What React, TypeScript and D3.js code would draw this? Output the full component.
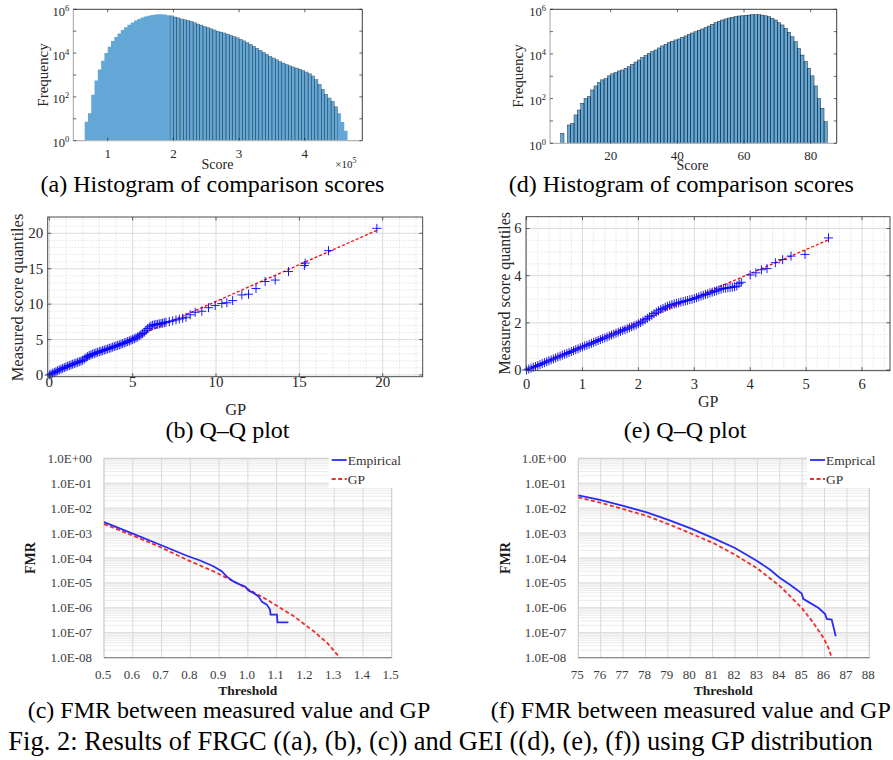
import React from 'react';
import * as d3 from 'd3';

const SERIF = "'Liberation Serif','Times New Roman',Times,serif";

// ---------- (a) FRGC histogram ----------
const histAScoreStart = 65000;
const histABinWidth = 5000;
const histAFreqLog10 = [
  0.87, 1.25, 2.1, 2.75, 3.25, 3.65, 4.0, 4.29, 4.55, 4.73,
  4.9, 5.05, 5.18, 5.3, 5.4, 5.49, 5.56, 5.62, 5.67, 5.71,
  5.74, 5.76, 5.77, 5.77, 5.76, 5.73, 5.7, 5.65, 5.61, 5.56,
  5.52, 5.49, 5.45, 5.39, 5.33, 5.28, 5.22, 5.17, 5.11, 5.06,
  5.0, 4.96, 4.92, 4.87, 4.82, 4.76, 4.7, 4.63, 4.56, 4.48,
  4.4, 4.31, 4.22, 4.13, 4.04, 3.95, 3.86, 3.78, 3.7, 3.62,
  3.55, 3.48, 3.42, 3.37, 3.32, 3.27, 3.21, 3.14, 3.06, 2.96,
  2.8, 2.58, 2.35, 2.12, 1.95, 1.8, 1.55, 1.25, 0.85, 0.45,
];
const histAXTicks = [100000, 200000, 300000, 400000];
const histAXTickLabels = ['1', '2', '3', '4'];

// ---------- (d) GEI histogram ----------
const histDScoreStart = 5;
const histDBinWidth = 1;
const histDFreqLog10: (number | null)[] = [
  0.45, null, 0.82, 0.89, 1.27, 1.49, 1.79, 2.01, 2.09, 2.39,
  2.57, 2.72, 2.84, 2.9, 3.02, 3.11, 3.17, 3.24, 3.28, 3.36,
  3.43, 3.54, 3.64, 3.73, 3.84, 3.93, 4.03, 4.11, 4.18, 4.27,
  4.36, 4.43, 4.51, 4.57, 4.63, 4.67, 4.75, 4.81, 4.88, 4.94,
  5.0, 5.06, 5.12, 5.19, 5.25, 5.33, 5.4, 5.46, 5.52, 5.57,
  5.61, 5.64, 5.67, 5.7, 5.71, 5.73, 5.74, 5.76, 5.76, 5.76,
  5.74, 5.71, 5.67, 5.6, 5.52, 5.4, 5.3, 5.15, 4.97, 4.77,
  4.55, 4.25, 3.95, 3.66, 3.36, 3.02, 2.57, 2.01, 1.57, 0.97,
];
const histDXTicks = [20, 40, 60, 80];
const histDXTickLabels = ['20', '40', '60', '80'];

const histYTickExps = [0, 2, 4, 6];

// ---------- (b) FRGC Q-Q ----------
const qqBGP = [
  0, 0.1, 0.2, 0.3, 0.4, 0.5, 0.6, 0.7, 0.8, 0.9, 1.0, 1.1, 1.2, 1.3, 1.4, 1.5, 1.6, 1.7, 1.8, 1.9,
  2.0, 2.1, 2.2, 2.3, 2.4, 2.5, 2.6, 2.7, 2.8, 2.9, 3.0, 3.1, 3.2, 3.3, 3.4, 3.5, 3.6, 3.7, 3.8, 3.9,
  4.0, 4.1, 4.2, 4.3, 4.4, 4.5, 4.6, 4.7, 4.8, 4.9, 5.0, 5.1, 5.2, 5.3, 5.4, 5.5, 5.6, 5.7, 5.8, 5.9,
  6.0, 6.1, 6.2, 6.3, 6.4, 6.5, 6.6, 6.7, 6.8, 6.9, 7.0, 7.2, 7.4, 7.6, 7.8, 8.0, 8.2, 8.45, 8.75, 9.15,
  9.55, 9.95, 10.35, 10.65, 11.0, 11.55, 11.95, 12.4, 12.95, 13.55, 14.35, 15.3, 15.35, 16.75, 19.65,
];
const qqBMeasured = [
  0, 0.12, 0.25, 0.36, 0.48, 0.6, 0.72, 0.83, 0.93, 1.04, 1.14, 1.24, 1.33, 1.42, 1.52, 1.61, 1.7, 1.79, 1.88, 1.97,
  2.08, 2.25, 2.45, 2.62, 2.75, 2.86, 2.95, 3.04, 3.12, 3.2, 3.28, 3.36, 3.44, 3.52, 3.6, 3.68, 3.76, 3.84, 3.93, 4.02,
  4.1, 4.18, 4.26, 4.35, 4.44, 4.53, 4.62, 4.72, 4.82, 4.92, 5.02, 5.12, 5.24, 5.37, 5.52, 5.68, 5.85, 6.05, 6.3, 6.55,
  6.78, 6.92, 7.02, 7.08, 7.13, 7.17, 7.22, 7.27, 7.32, 7.38, 7.45, 7.55, 7.65, 7.78, 7.9, 8.02, 8.15, 8.5, 8.85, 9.0,
  9.5, 9.8, 10.1, 10.2, 10.5, 11.3, 11.4, 12.2, 13.2, 13.4, 14.6, 15.45, 15.8, 17.55, 20.7,
];
const qqBRefGP = [0, 19.64];
const qqBRefMeasured = [0, 20.4];

// ---------- (e) GEI Q-Q ----------
const qqEGP = [
  0, 0.04, 0.08, 0.12, 0.16, 0.2, 0.24, 0.28, 0.32, 0.36, 0.4, 0.44, 0.48, 0.52, 0.56, 0.6, 0.64, 0.68, 0.72, 0.76,
  0.8, 0.84, 0.88, 0.92, 0.96, 1.0, 1.04, 1.08, 1.12, 1.16, 1.2, 1.24, 1.28, 1.32, 1.36, 1.4, 1.44, 1.48, 1.52, 1.56,
  1.6, 1.64, 1.68, 1.72, 1.76, 1.8, 1.84, 1.88, 1.92, 1.96, 2.0, 2.04, 2.08, 2.12, 2.16, 2.2, 2.24, 2.28, 2.32, 2.36,
  2.4, 2.44, 2.48, 2.52, 2.56, 2.6, 2.64, 2.68, 2.72, 2.76, 2.8, 2.84, 2.88, 2.92, 2.96, 3.0, 3.04, 3.08, 3.12, 3.16,
  3.2, 3.24, 3.28, 3.32, 3.36, 3.4, 3.44, 3.48, 3.52, 3.56, 3.6, 3.64, 3.68, 3.72, 3.76, 3.8, 3.84,
  4.0, 4.1, 4.2, 4.3, 4.45, 4.58, 4.73, 4.98, 5.4,
];
const qqEMeasured = [
  0, 0.04, 0.08, 0.12, 0.15, 0.19, 0.23, 0.27, 0.31, 0.35, 0.39, 0.43, 0.47, 0.51, 0.55, 0.59, 0.63, 0.67, 0.7, 0.74,
  0.78, 0.82, 0.86, 0.9, 0.94, 0.98, 1.02, 1.05, 1.09, 1.13, 1.17, 1.21, 1.25, 1.29, 1.33, 1.36, 1.4, 1.44, 1.48, 1.52,
  1.56, 1.6, 1.64, 1.68, 1.71, 1.75, 1.79, 1.83, 1.87, 1.91, 1.96, 2.01, 2.07, 2.13, 2.19, 2.26, 2.32, 2.39, 2.45, 2.51,
  2.57, 2.61, 2.66, 2.7, 2.74, 2.77, 2.8, 2.83, 2.85, 2.88, 2.9, 2.93, 2.95, 2.98, 3.0, 3.03, 3.07, 3.1, 3.14, 3.17,
  3.2, 3.23, 3.27, 3.3, 3.33, 3.36, 3.4, 3.43, 3.46, 3.47, 3.48, 3.5, 3.51, 3.53, 3.56, 3.66, 3.72,
  4.03, 4.12, 4.25, 4.3, 4.55, 4.68, 4.83, 4.9, 5.6,
];
const qqERefGP = [0, 5.4];
const qqERefMeasured = [0, 5.52];

// ---------- (c) FRGC FMR ----------
const fmrCEmpThreshold = [0.5, 0.602, 0.695, 0.788, 0.834, 0.88, 0.909, 0.926, 0.95, 0.973, 0.99, 1.002, 1.019, 1.037, 1.049, 1.066, 1.077, 1.079, 1.101, 1.103, 1.141];
const fmrCEmpLog10 = [-2.56, -3.03, -3.47, -3.91, -4.1, -4.33, -4.53, -4.74, -4.94, -5.07, -5.14, -5.3, -5.4, -5.54, -5.76, -5.87, -6.07, -6.27, -6.27, -6.58, -6.58];
const fmrCGPThreshold = [0.5, 0.602, 0.695, 0.788, 0.88, 0.973, 1.066, 1.159, 1.228, 1.275, 1.315, 1.32];
const fmrCGPLog10 = [-2.64, -3.11, -3.56, -4.07, -4.53, -5.07, -5.67, -6.33, -6.93, -7.4, -7.93, -8.0];
const fmrCXTicks = [0.5, 0.6, 0.7, 0.8, 0.9, 1.0, 1.1, 1.2, 1.3, 1.4, 1.5];

// ---------- (f) GEI FMR ----------
const fmrFEmpThreshold = [75, 75.97, 77.01, 78.06, 79.02, 79.99, 81.03, 82.0, 82.97, 83.57, 84.01, 84.46, 84.76, 84.98, 85.05, 85.35, 85.72, 86.02, 86.1, 86.32, 86.5];
const fmrFEmpLog10 = [-1.49, -1.67, -1.91, -2.17, -2.47, -2.8, -3.2, -3.6, -4.11, -4.47, -4.8, -5.07, -5.27, -5.43, -5.64, -5.8, -6.0, -6.24, -6.44, -6.47, -7.14];
const fmrFGPThreshold = [75, 75.97, 77.01, 78.06, 79.02, 79.99, 81.03, 82.0, 82.97, 84.01, 84.98, 85.5, 85.95, 86.17, 86.32];
const fmrFGPLog10 = [-1.57, -1.78, -2.04, -2.31, -2.64, -3.0, -3.4, -3.87, -4.4, -5.13, -6.0, -6.6, -7.2, -7.6, -8.0];
const fmrFXTicks = [75, 76, 77, 78, 79, 80, 81, 82, 83, 84, 85, 86, 87, 88];

const fmrYTickExps = [0, -1, -2, -3, -4, -5, -6, -7, -8];
const fmrYTickLabels = ['1.0E+00', '1.0E-01', '1.0E-02', '1.0E-03', '1.0E-04', '1.0E-05', '1.0E-06', '1.0E-07', '1.0E-08'];

const captions = {
  a: '(a) Histogram of comparison scores',
  d: '(d) Histogram of comparison scores',
  b: '(b) Q\u2013Q plot',
  e: '(e) Q\u2013Q plot',
  c: '(c) FMR between measured value and GP',
  f: '(f) FMR between measured value and GP',
  fig: 'Fig. 2: Results of FRGC ((a), (b), (c)) and GEI ((d), (e), (f)) using GP distribution',
};

type Box = { l: number; r: number; t: number; b: number };
const AX = '#262626';

function HistPanel(p: {
  box: Box; xDomain: [number, number]; start: number; binWidth: number; logs: (number | null)[];
  xTicks: number[]; xTickLabels: string[]; dark: (s: number) => boolean; edgeW: number; edgeOp: number;
  yLabelX: number; yLabelY: number; scoreX: number; scoreY: number; tickY: number; multiplier?: boolean;
}) {
  const { box } = p;
  const x = d3.scaleLinear().domain(p.xDomain).range([box.l, box.r]);
  const y = d3.scaleLog().domain([1, 1e6]).range([box.b, box.t]);
  const bins = p.logs.map((v, i) => ({ s0: p.start + i * p.binWidth, s1: p.start + (i + 1) * p.binWidth, v }));
  const pts: [number, number][] = bins.map((b) => [b.s0, b.v == null ? 0 : b.v]);
  const last = bins[bins.length - 1];
  pts.push([last.s1, last.v == null ? 0 : last.v]);
  const area = d3.area<[number, number]>()
    .x((d) => x(d[0]))
    .y0(box.b)
    .y1((d) => y(Math.pow(10, d[1])))
    .curve(d3.curveStepAfter);
  const decades = d3.range(0, 7);
  return (
    <g>
      <path d={area(pts) || ''} fill="#63a7d7" stroke="none" />
      {bins.map((b, i) => (b.v == null || !p.dark((b.s0 + b.s1) / 2)) ? null : (
        <rect key={i} x={x(b.s0)} y={y(Math.pow(10, b.v))} width={x(b.s1) - x(b.s0)} height={box.b - y(Math.pow(10, b.v))}
          fill="none" stroke="#101820" strokeWidth={p.edgeW} strokeOpacity={p.edgeOp} />
      ))}
      <line x1={box.l} x2={box.r} y1={box.t} y2={box.t} stroke={AX} strokeWidth={0.9} />
      <line x1={box.r} x2={box.r} y1={box.t} y2={box.b} stroke={AX} strokeWidth={0.9} />
      <line x1={box.l} x2={box.l} y1={box.t} y2={box.b} stroke="#9a9a9a" strokeWidth={0.9} />
      <line x1={box.l} x2={box.r} y1={box.b} y2={box.b} stroke="#b5b5b5" strokeWidth={1.2} />
      {p.xTicks.map((t) => (
        <g key={t}>
          <line x1={x(t)} x2={x(t)} y1={box.b} y2={box.b - 3} stroke={AX} strokeWidth={0.7} />
          <line x1={x(t)} x2={x(t)} y1={box.t} y2={box.t + 3} stroke={AX} strokeWidth={0.7} />
        </g>
      ))}
      {decades.map((e) => (
        <g key={e}>
          <line x1={box.l} x2={box.l + 3} y1={y(Math.pow(10, e))} y2={y(Math.pow(10, e))} stroke={AX} strokeWidth={0.7} />
          <line x1={box.r} x2={box.r - 3} y1={y(Math.pow(10, e))} y2={y(Math.pow(10, e))} stroke={AX} strokeWidth={0.7} />
        </g>
      ))}
      {p.xTicks.map((t, i) => (
        <text key={t} x={x(t)} y={p.tickY} textAnchor="middle" fontSize={13} fill={AX}>{p.xTickLabels[i]}</text>
      ))}
      {histYTickExps.map((e) => (
        <text key={e} x={box.l - 4} y={y(Math.pow(10, e)) + 6.5} textAnchor="end" fontSize={12.5} fill={AX}>
          <tspan>10</tspan><tspan fontSize={8.5} dy={-5}>{e}</tspan>
        </text>
      ))}
      <text x={p.yLabelX} y={p.yLabelY} transform={`rotate(-90 ${p.yLabelX} ${p.yLabelY})`} textAnchor="middle"
        dominantBaseline="central" fontSize={15} fill={AX}>Frequency</text>
      <text x={p.scoreX} y={p.scoreY} textAnchor="middle" fontSize={14} fill={AX}>Score</text>
      {p.multiplier && (
        <text x={box.r - 27} y={p.scoreY - 1} fontSize={11} fill={AX}>
          <tspan>×10</tspan><tspan fontSize={8} dy={-5}>5</tspan>
        </text>
      )}
    </g>
  );
}

function QQPanel(p: {
  box: Box; xDomain: [number, number]; yDomain: [number, number];
  xTicks: number[]; yTicks: number[]; xMinorStep: number; yMinorStep: number;
  gp: number[]; meas: number[]; refX: number[]; refY: number[];
  tickFont: number; labelFont: number; tickY: number; gpX: number; gpY: number; ylX: number; ylY: number;
}) {
  const { box } = p;
  const x = d3.scaleLinear().domain(p.xDomain).range([box.l, box.r]);
  const y = d3.scaleLinear().domain(p.yDomain).range([box.b, box.t]);
  const minorX = d3.range(Math.ceil(p.xDomain[0] / p.xMinorStep) * p.xMinorStep, p.xDomain[1], p.xMinorStep)
    .filter((v) => !p.xTicks.some((t) => Math.abs(t - v) < 1e-6));
  const minorY = d3.range(Math.ceil(p.yDomain[0] / p.yMinorStep) * p.yMinorStep, p.yDomain[1], p.yMinorStep)
    .filter((v) => !p.yTicks.some((t) => Math.abs(t - v) < 1e-6));
  const marks = p.gp.map((g, i) => {
    const px = x(g), py = y(p.meas[i]);
    return `M${px - 4.5},${py}h9M${px},${py - 4.5}v9`;
  }).join('');
  const line = d3.line<number>().x((d) => x(d)).y((_, i) => y(p.refY[i]));
  return (
    <g>
      {minorX.map((v) => <line key={'mx' + v} x1={x(v)} x2={x(v)} y1={box.t} y2={box.b} stroke="#d4d4d4" strokeWidth={0.6} strokeDasharray="1.5,1.5" />)}
      {minorY.map((v) => <line key={'my' + v} x1={box.l} x2={box.r} y1={y(v)} y2={y(v)} stroke="#d4d4d4" strokeWidth={0.6} strokeDasharray="1.5,1.5" />)}
      {p.xTicks.map((v) => <line key={'gx' + v} x1={x(v)} x2={x(v)} y1={box.t} y2={box.b} stroke="#d6d6d6" strokeWidth={0.9} />)}
      {p.yTicks.map((v) => <line key={'gy' + v} x1={box.l} x2={box.r} y1={y(v)} y2={y(v)} stroke="#d6d6d6" strokeWidth={0.9} />)}
      <path d={line(p.refX) || ''} fill="none" stroke="#ff0000" strokeWidth={1.3} strokeDasharray="3,2" />
      <path d={marks} fill="none" stroke="#0000ff" strokeWidth={0.9} />
      <rect x={box.l} y={box.t} width={box.r - box.l} height={box.b - box.t} fill="none" stroke="#3a3a3a" strokeWidth={0.9} />
      {p.xTicks.map((v) => (
        <g key={'tx' + v}>
          <line x1={x(v)} x2={x(v)} y1={box.b} y2={box.b - 3.5} stroke={AX} strokeWidth={0.7} />
          <line x1={x(v)} x2={x(v)} y1={box.t} y2={box.t + 3.5} stroke={AX} strokeWidth={0.7} />
          <text x={x(v)} y={p.tickY} textAnchor="middle" fontSize={p.tickFont} fill={AX}>{v}</text>
        </g>
      ))}
      {p.yTicks.map((v) => (
        <g key={'ty' + v}>
          <line x1={box.l} x2={box.l + 3.5} y1={y(v)} y2={y(v)} stroke={AX} strokeWidth={0.7} />
          <line x1={box.r} x2={box.r - 3.5} y1={y(v)} y2={y(v)} stroke={AX} strokeWidth={0.7} />
          <text x={box.l - 4.5} y={y(v)} dominantBaseline="central" textAnchor="end" fontSize={p.tickFont} fill={AX}>{v}</text>
        </g>
      ))}
      <text x={p.gpX} y={p.gpY} textAnchor="middle" fontSize={p.labelFont} fill={AX}>GP</text>
      <text x={p.ylX} y={p.ylY} transform={`rotate(-90 ${p.ylX} ${p.ylY})`} textAnchor="middle" dominantBaseline="central"
        fontSize={p.labelFont} fill={AX}>Measured score quantiles</text>
    </g>
  );
}

function ExcelPanel(p: {
  box: Box; xDomain: [number, number]; xTicks: number[]; xFmt: (v: number) => string;
  empX: number[]; empY: number[]; gpX: number[]; gpY: number[];
  empLabel: string; legendX: number; fmrX: number; thrX: number;
}) {
  const { box } = p;
  const x = d3.scaleLinear().domain(p.xDomain).range([box.l, box.r]);
  const y = d3.scaleLog().domain([1e-8, 1]).range([box.b, box.t]);
  const minor: number[] = [];
  for (let k = -8; k < 0; k++) for (let m = 2; m <= 9; m++) minor.push(m * Math.pow(10, k));
  const line = d3.line<[number, number]>().x((d) => x(d[0])).y((d) => y(Math.pow(10, d[1])));
  const emp = p.empX.map((v, i) => [v, p.empY[i]] as [number, number]);
  const gp = p.gpX.map((v, i) => [v, p.gpY[i]] as [number, number]);
  return (
    <g>
      {minor.map((v, i) => <line key={'m' + i} x1={box.l} x2={box.r} y1={y(v)} y2={y(v)} stroke="#ebebeb" strokeWidth={1} />)}
      {fmrYTickExps.map((e) => <line key={'M' + e} x1={box.l} x2={box.r} y1={y(Math.pow(10, e))} y2={y(Math.pow(10, e))} stroke="#d4d4d4" strokeWidth={1} />)}
      {p.xTicks.map((v) => <line key={'v' + v} x1={x(v)} x2={x(v)} y1={box.t} y2={box.b} stroke="#d9d9d9" strokeWidth={1} />)}
      <rect x={box.l} y={box.t} width={box.r - box.l} height={box.b - box.t} fill="none" stroke="#cfcfcf" strokeWidth={1} />
      <line x1={box.l} x2={box.r} y1={box.b} y2={box.b} stroke="#8c8c8c" strokeWidth={1.2} />
      <path d={line(gp) || ''} fill="none" stroke="#f22b2b" strokeWidth={1.8} strokeDasharray="4,2.5" />
      <path d={line(emp) || ''} fill="none" stroke="#2b2bf5" strokeWidth={1.8} />
      <rect x={p.legendX - 3} y={449} width={box.r - p.legendX + 16} height={39} fill="#fff" />
      <line x1={p.legendX} x2={p.legendX + 15} y1={460} y2={460} stroke="#2b2bf5" strokeWidth={1.8} />
      <text x={p.legendX + 16} y={464.5} fontSize={13.5} fill="#333">{p.empLabel}</text>
      <line x1={p.legendX} x2={p.legendX + 15} y1={479} y2={479} stroke="#f22b2b" strokeWidth={1.8} strokeDasharray="4,2.5" />
      <text x={p.legendX + 16} y={483.5} fontSize={13.5} fill="#333">GP</text>
      {fmrYTickExps.map((e, i) => (
        <text key={'yl' + e} x={box.l - 12} y={y(Math.pow(10, e))} dominantBaseline="central" textAnchor="end" fontSize={13} fill="#3c3c3c">{fmrYTickLabels[i]}</text>
      ))}
      {p.xTicks.map((v) => (
        <text key={'xl' + v} x={x(v) - 1} y={679} textAnchor="middle" fontSize={13} fill="#3c3c3c">{p.xFmt(v)}</text>
      ))}
      <text x={p.fmrX} y={558} transform={`rotate(-90 ${p.fmrX} 558)`} textAnchor="middle" dominantBaseline="central"
        fontSize={14} fontWeight="bold" fill="#1a1a1a">FMR</text>
      <text x={p.thrX} y={695} textAnchor="middle" fontSize={13.5} fontWeight="bold" fill="#1a1a1a">Threshold</text>
    </g>
  );
}

export default function App() {
  const W = 893, H = 760;
  const capFont = 24;
  return (
    <svg width={W} height={H} viewBox={`0 0 ${W} ${H}`} fontFamily={SERIF}
      style={{ position: 'absolute', left: 0, top: 0, background: '#fff', display: 'block' }}>
      <rect width={W} height={H} fill="#fff" />
      <HistPanel box={{ l: 73.3, r: 362.3, t: 9.3, b: 140.7 }} xDomain={[47640, 487500]}
        start={histAScoreStart} binWidth={histABinWidth} logs={histAFreqLog10}
        xTicks={histAXTicks} xTickLabels={histAXTickLabels} dark={(s) => s > 195000 && s < 452000}
        edgeW={0.45} edgeOp={0.6}
        yLabelX={43.3} yLabelY={75} scoreX={217.5} scoreY={169} tickY={158} multiplier />
      <HistPanel box={{ l: 550, r: 836.7, t: 9.3, b: 143.3 }} xDomain={[1.8, 87.8]}
        start={histDScoreStart} binWidth={histDBinWidth} logs={histDFreqLog10}
        xTicks={histDXTicks} xTickLabels={histDXTickLabels} dark={() => true}
        edgeW={0.55} edgeOp={0.8}
        yLabelX={518.3} yLabelY={76} scoreX={692.5} scoreY={170} tickY={160} />
      <QQPanel box={{ l: 47.7, r: 422.7, t: 217, b: 376.7 }} xDomain={[-0.096, 22.4]} yDomain={[-0.24, 22.3]}
        xTicks={[0, 5, 10, 15, 20]} yTicks={[0, 5, 10, 15, 20]} xMinorStep={1} yMinorStep={1}
        gp={qqBGP} meas={qqBMeasured} refX={qqBRefGP} refY={qqBRefMeasured}
        tickFont={15} labelFont={16.5} tickY={387} gpX={235.7} gpY={415} ylX={17.3} ylY={297.5} />
      <QQPanel box={{ l: 526, r: 890, t: 216.7, b: 370.7 }} xDomain={[-0.01, 6.5]} yDomain={[-0.03, 6.5]}
        xTicks={[0, 1, 2, 3, 4, 5, 6]} yTicks={[0, 2, 4, 6]} xMinorStep={0.2} yMinorStep={0.5}
        gp={qqEGP} meas={qqEMeasured} refX={qqERefGP} refY={qqERefMeasured}
        tickFont={14.5} labelFont={16} tickY={388.5} gpX={708.3} gpY={406.5} ylX={505} ylY={293.3} />
      <ExcelPanel box={{ l: 104, r: 391.7, t: 458.3, b: 657.7 }} xDomain={[0.5, 1.5]} xTicks={fmrCXTicks}
        xFmt={(v) => v.toFixed(1)} empX={fmrCEmpThreshold} empY={fmrCEmpLog10} gpX={fmrCGPThreshold} gpY={fmrCGPLog10}
        empLabel="Empirical" legendX={331.7} fmrX={30.7} thrX={247.7} />
      <ExcelPanel box={{ l: 578.3, r: 869.3, t: 458.3, b: 657.7 }} xDomain={[75, 88]} xTicks={fmrFXTicks}
        xFmt={(v) => String(v)} empX={fmrFEmpThreshold} empY={fmrFEmpLog10} gpX={fmrFGPThreshold} gpY={fmrFGPLog10}
        empLabel="Emprical" legendX={810} fmrX={505} thrX={723.3} />
      <g fill="#000" fontSize={capFont}>
        <text x={212.5} y={192} textAnchor="middle">{captions.a}</text>
        <text x={681.3} y={192} textAnchor="middle">{captions.d}</text>
        <text x={227.5} y={438} textAnchor="middle">{captions.b}</text>
        <text x={685} y={438} textAnchor="middle">{captions.e}</text>
        <text x={229} y={718} textAnchor="middle">{captions.c}</text>
        <text x={690.8} y={718} textAnchor="middle">{captions.f}</text>
        <text x={8.3} y={750} fontSize={26.5}>{captions.fig}</text>
      </g>
    </svg>
  );
}
